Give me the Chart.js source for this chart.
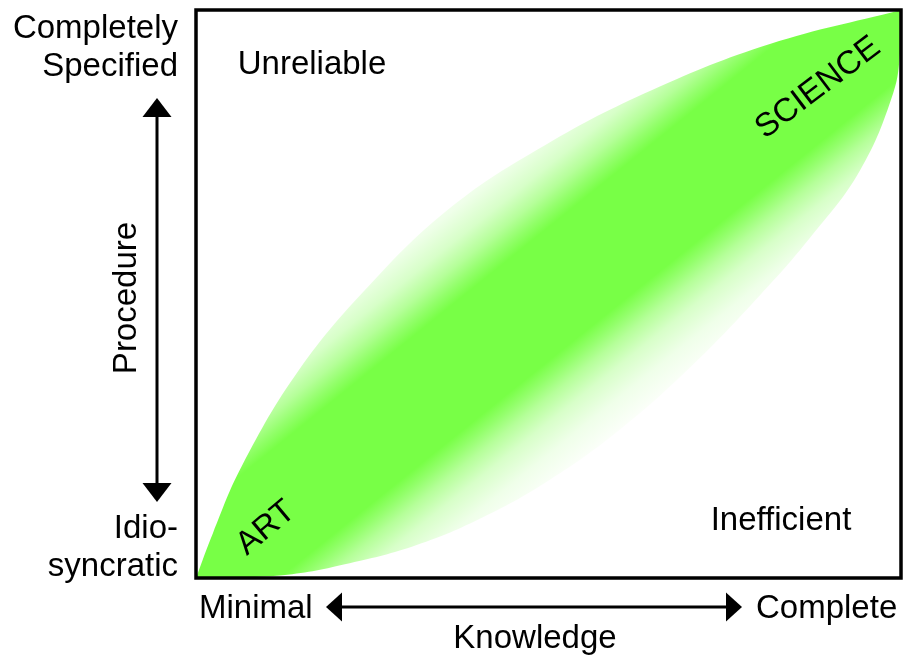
<!DOCTYPE html>
<html>
<head>
<meta charset="utf-8">
<script src="https://cdn.jsdelivr.net/npm/chart.js@4"></script>
<style>
  html, body { margin: 0; padding: 0; background: #fff; }
  #wrap { width: 904px; height: 657px; position: relative; }
</style>
</head>
<body>
<div id="wrap"><canvas id="artChart"></canvas></div>
<script>
// Knowledge (x) vs Procedure (y), both 0-100
const knowledgeUpper = [0, 2.4, 6.5, 14.6, 24.5, 36.2, 49.5, 64.7, 81.4, 100];
const procedureUpper = [0, 7.9, 19.7, 36.6, 51.4, 65.3, 76.2, 85.9, 94.0, 100];
const knowledgeLower = [0, 12.3, 21.8, 31.3, 40.7, 50.2, 60.1, 70.1, 80.0, 87.1, 94.2, 98.9, 99.9, 100];
const procedureLower = [0, 0.5, 2.6, 5.8, 10.7, 17.3, 26.1, 37.1, 49.8, 59.9, 71.8, 85.4, 93.0, 100];

const xAxisLabels = ['Minimal', 'Complete'];
const xAxisTitle = 'Knowledge';
const yAxisTop = ['Completely', 'Specified'];
const yAxisBottom = ['Idio-', 'syncratic'];
const yAxisTitle = 'Procedure';
const regionLabels = ['Unreliable', 'Inefficient', 'ART', 'SCIENCE'];

const FONT = '"Liberation Sans", Arial, sans-serif';
const GREEN = [120, 255, 70];

const toPoints = (xs, ys) => xs.map((x, i) => ({ x: x, y: ys[i] }));

// green band along the diagonal, fading to white away from it
const lensFill = (context) => {
  const chart = context.chart;
  const a = chart.chartArea;
  if (!a) return 'rgb(120,255,70)';
  const w = a.right - a.left;
  const h = a.bottom - a.top;
  const len = Math.sqrt(w * w + h * h);
  const nx = h / len, ny = w / len;
  const cx = (a.left + a.right) / 2, cy = (a.top + a.bottom) / 2;
  const L = 160;
  const g = chart.ctx.createLinearGradient(cx - nx * L, cy - ny * L, cx + nx * L, cy + ny * L);
  const stops = [[0, 1], [52, 1], [65, 0.8], [80, 0.55], [100, 0.3], [125, 0.12], [150, 0.03], [160, 0]];
  const mix = (m) => {
    const c = GREEN.map(v => Math.round(255 + (v - 255) * m));
    return `rgb(${c[0]},${c[1]},${c[2]})`;
  };
  stops.forEach(([p, m]) => {
    g.addColorStop(0.5 - p / (2 * L), mix(m));
    g.addColorStop(0.5 + p / (2 * L), mix(m));
  });
  return g;
};

const arrowHead = (ctx, tipX, tipY, dx, dy, size, half) => {
  ctx.beginPath();
  ctx.moveTo(tipX, tipY);
  ctx.lineTo(tipX - dx * size - dy * half, tipY - dy * size + dx * half);
  ctx.lineTo(tipX - dx * size + dy * half, tipY - dy * size - dx * half);
  ctx.closePath();
  ctx.fill();
};

const decorations = {
  id: 'decorations',
  afterDraw(chart) {
    const ctx = chart.ctx;
    const a = chart.chartArea;
    ctx.save();
    ctx.fillStyle = '#000';
    ctx.strokeStyle = '#000';

    // frame
    ctx.lineWidth = 3.5;
    ctx.strokeRect(a.left, a.top, a.right - a.left, a.bottom - a.top);

    ctx.font = `33px ${FONT}`;
    ctx.textBaseline = 'alphabetic';

    // region labels
    ctx.textAlign = 'center';
    ctx.fillText(regionLabels[0], 312, 74);
    ctx.fillText(regionLabels[1], 781, 530);

    ctx.textBaseline = 'middle';
    ctx.save();
    ctx.translate(266, 528);
    ctx.rotate(-40 * Math.PI / 180);
    ctx.fillText(regionLabels[2], 0, 0);
    ctx.restore();

    ctx.save();
    ctx.translate(818, 88);
    ctx.rotate(-37 * Math.PI / 180);
    ctx.fillText(regionLabels[3], 0, 0);
    ctx.restore();
    ctx.textBaseline = 'alphabetic';

    // y axis ends
    ctx.textAlign = 'right';
    ctx.fillText(yAxisTop[0], 178, 38);
    ctx.fillText(yAxisTop[1], 178, 76);
    ctx.fillText(yAxisBottom[0], 178, 538);
    ctx.fillText(yAxisBottom[1], 178, 576);

    // y axis title
    ctx.save();
    ctx.translate(136, 298);
    ctx.rotate(-Math.PI / 2);
    ctx.textAlign = 'center';
    ctx.fillText(yAxisTitle, 0, 0);
    ctx.restore();

    // vertical double arrow
    ctx.lineWidth = 3;
    ctx.beginPath();
    ctx.moveTo(157, 112);
    ctx.lineTo(157, 488);
    ctx.stroke();
    arrowHead(ctx, 157, 98, 0, -1, 19, 14.5);
    arrowHead(ctx, 157, 502, 0, 1, 19, 14.5);

    // x axis ends and title
    ctx.textAlign = 'left';
    ctx.fillText(xAxisLabels[0], 199, 618);
    ctx.fillText(xAxisLabels[1], 756, 618);
    ctx.textAlign = 'center';
    ctx.fillText(xAxisTitle, 535, 648);

    // horizontal double arrow
    ctx.beginPath();
    ctx.moveTo(340, 607);
    ctx.lineTo(728, 607);
    ctx.stroke();
    arrowHead(ctx, 326, 607, -1, 0, 16, 14.5);
    arrowHead(ctx, 742, 607, 1, 0, 16, 14.5);

    ctx.restore();
  }
};

new Chart(document.getElementById('artChart'), {
  type: 'line',
  data: {
    datasets: [
      {
        label: 'upper',
        data: toPoints(knowledgeUpper, procedureUpper),
        tension: 0.4,
        borderWidth: 0,
        borderColor: 'rgba(0,0,0,0)',
        pointRadius: 0,
        fill: '+1',
        backgroundColor: lensFill
      },
      {
        label: 'lower',
        data: toPoints(knowledgeLower, procedureLower),
        tension: 0.4,
        borderWidth: 0,
        borderColor: 'rgba(0,0,0,0)',
        pointRadius: 0,
        fill: false
      }
    ]
  },
  options: {
    responsive: true,
    maintainAspectRatio: false,
    animation: false,
    layout: { padding: { left: 196, top: 10, right: 3, bottom: 79 } },
    scales: {
      x: { type: 'linear', min: 0, max: 100, display: false },
      y: { type: 'linear', min: 0, max: 100, display: false }
    },
    plugins: {
      legend: { display: false },
      tooltip: { enabled: false }
    }
  },
  plugins: [decorations]
});
</script>
</body>
</html>
